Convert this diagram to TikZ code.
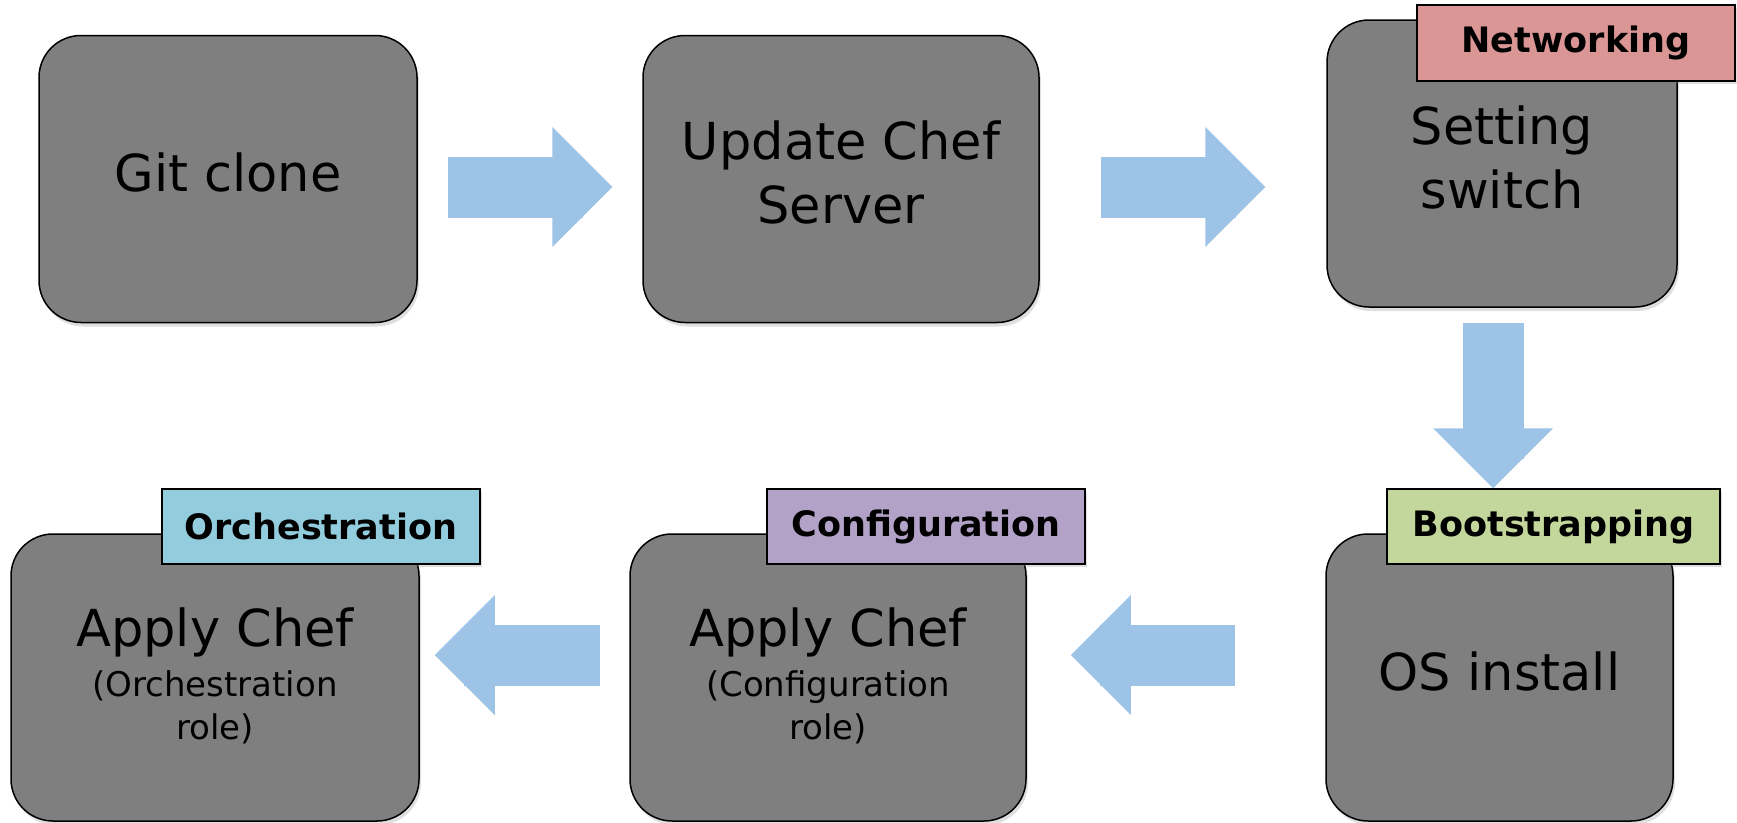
\documentclass[tikz,border=0pt]{standalone}
\usepackage{fontspec}
\setmainfont{DejaVu Sans}
\usetikzlibrary{arrows.meta,positioning,calc,shadows}

\definecolor{boxgray}{RGB}{127,127,127}
\definecolor{flowblue}{RGB}{157,195,230}
\definecolor{netred}{RGB}{217,150,148}
\definecolor{bootgreen}{RGB}{195,214,155}
\definecolor{confpurple}{RGB}{179,162,199}
\definecolor{orchcyan}{RGB}{147,205,221}

\begin{document}
\begin{tikzpicture}[
    x=1pt, y=-1pt,
    procbox/.style={
        draw,
        line width=1.5pt,
        fill=boxgray,
        rounded corners=42pt,
        inner sep=0pt,
        minimum height=287pt,
        align=center,
        text depth=13pt,
        font=\fontsize{51}{64}\selectfont,
        drop shadow={shadow xshift=2pt, shadow yshift=-4pt, opacity=0.25}
    },
    rolebox/.style={procbox, text depth=7pt, font=\fontsize{34}{43}\selectfont},
    tagbox/.style={
        draw,
        line width=1.5pt,
        inner sep=0pt,
        minimum width=318pt,
        minimum height=75pt,
        font=\fontsize{35}{42}\selectfont\bfseries,
        drop shadow={shadow xshift=2pt, shadow yshift=-3pt, opacity=0.25}
    },
    % rect cap hides the seam under the head; the start is shortened by 30.5pt more
    flow/.style={flowblue, line width=61pt, line cap=rect,
        -{Triangle[length=60pt, width=120pt, line width=0pt]}}
]

\useasboundingbox (0,0) rectangle (1737,822);

% steps
\node[procbox, minimum width=378pt] (gitclone) at (228,179) {Git clone};
\node[procbox, minimum width=396pt] (chefsrv) at (841,179) {Update Chef\\Server};
\node[procbox, minimum width=350pt] (swset) at (1502,163.5) {Setting\\switch};
\node[procbox, minimum width=347pt] (osinst) at (1499.5,677.5) {OS install};
\node[rolebox, minimum width=396pt] (confrole) at (828,677.5)
    {\fontsize{51}{64}\selectfont Apply Chef\\[7pt](Configuration\\role)};
\node[rolebox, minimum width=408pt] (orchrole) at (215,677.5)
    {\fontsize{51}{64}\selectfont Apply Chef\\[7pt](Orchestration\\role)};

% phase tags
\node[tagbox, fill=netred, minimum height=76pt] (nettag) at (1576,43) {Networking};
\node[tagbox, fill=bootgreen, minimum width=333pt] (boottag) at (1553.5,526.5) {Bootstrapping};
\node[tagbox, fill=confpurple] (conftag) at (926,526.5) {Configuration};
\node[tagbox, fill=orchcyan] (orchtag) at (321,526.5) {Orchestration};

% flow
\draw[flow, shorten <=60.5pt, shorten >=30pt] ([yshift=-8pt]gitclone.east) -- ([yshift=-8pt]chefsrv.west);
\draw[flow, shorten <=91.5pt, shorten >=61pt] ([yshift=-8pt]chefsrv.east) -- ([yshift=-8pt]chefsrv.east -| swset.west);
\draw[flow, shorten <=45.5pt] ([xshift=-9pt]swset.south) -- ([xshift=-9pt]swset.south |- boottag.north);
\draw[flow, shorten <=120.5pt, shorten >=44pt] ([yshift=22.5pt]osinst.west) -- ([yshift=22.5pt]confrole.east);
\draw[flow, shorten <=59.5pt, shorten >=15pt] ([yshift=22.5pt]confrole.west) -- ([yshift=22.5pt]orchrole.east);

\end{tikzpicture}
\end{document}
